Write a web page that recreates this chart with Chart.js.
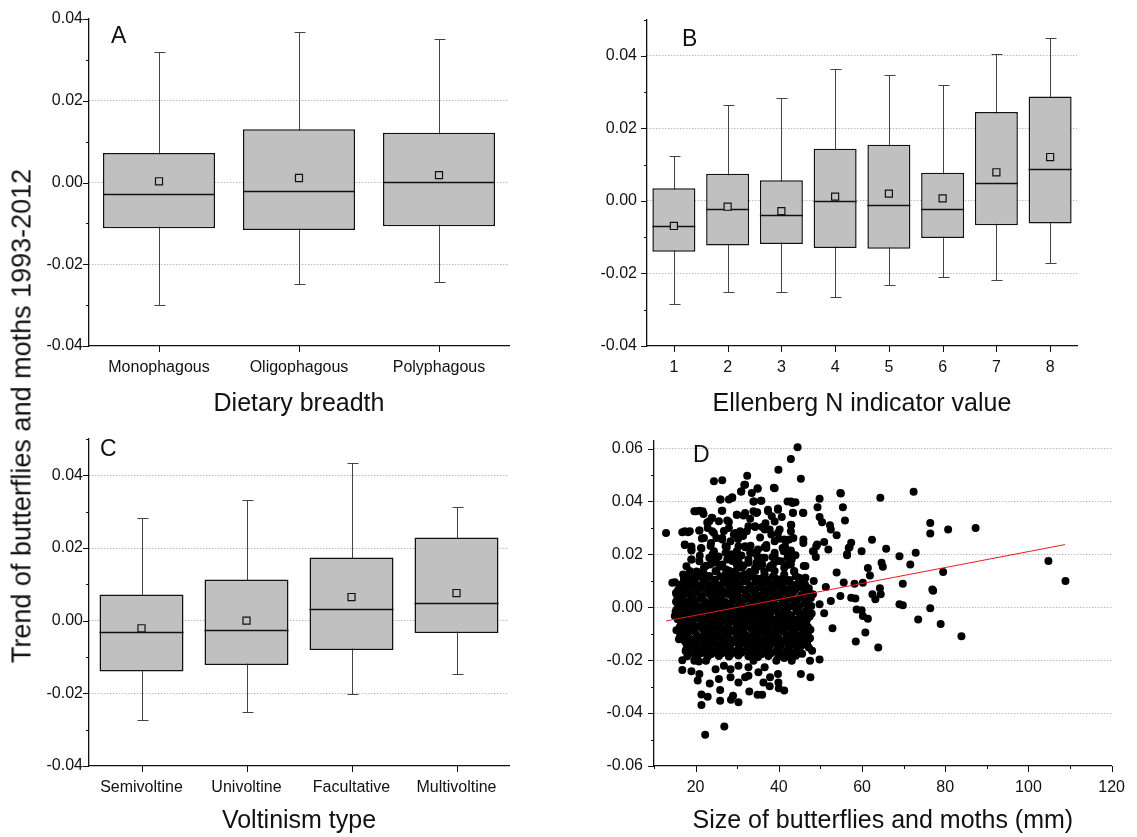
<!DOCTYPE html>
<html lang="en">
<head>
<meta charset="UTF-8">
<title>Trend of butterflies and moths 1993-2012</title>
<script src="https://cdn.jsdelivr.net/npm/chart.js"></script>
<style>
  body { margin: 0; background: #fff; }
  #fig { position: relative; width: 1137px; height: 837px; overflow: hidden; font-family: "Liberation Sans", Arial, sans-serif; color: #111; }
  canvas { position: absolute; }
  .letter { position: absolute; font-size: 23px; line-height: 1; }
  #ytitle { position: absolute; left: 22px; top: 416px; font-size: 27px; white-space: nowrap; transform: translate(-50%, -50%) rotate(-90deg); }
</style>
</head>
<body>
<div id="fig">
  <canvas id="chartA" width="500" height="420" style="left:30px;top:0px"></canvas>
  <canvas id="chartB" width="510" height="420" style="left:590px;top:0px"></canvas>
  <canvas id="chartC" width="500" height="417" style="left:30px;top:420px"></canvas>
  <canvas id="chartD" width="547" height="417" style="left:590px;top:420px"></canvas>
  <div class="letter" style="left:111px;top:24px">A</div>
  <div class="letter" style="left:682px;top:27px">B</div>
  <div class="letter" style="left:100px;top:437px">C</div>
  <div class="letter" style="left:693px;top:443px">D</div>
  <div id="ytitle">Trend of butterflies and moths 1993-2012</div>
</div>

<script>
// A - dietary breadth
const dietLabels = ['Monophagous', 'Oligophagous', 'Polyphagous'];
const dietLow = [-0.0300, -0.0248, -0.0244];
const dietQ1 = [-0.0112, -0.0116, -0.0107];
const dietMedian = [-0.0028, -0.0021, 0.0002];
const dietQ3 = [0.0072, 0.0130, 0.0122];
const dietHigh = [0.0319, 0.0367, 0.0350];
const dietMean = [0.0003, 0.0011, 0.0018];

// B - Ellenberg N
const ellLabels = ['1', '2', '3', '4', '5', '6', '7', '8'];
const ellLow = [-0.0284, -0.0252, -0.0252, -0.0265, -0.0233, -0.0211, -0.0217, -0.0172];
const ellQ1 = [-0.0140, -0.0123, -0.0119, -0.0130, -0.0132, -0.0102, -0.0067, -0.0062];
const ellMedian = [-0.0070, -0.0023, -0.0040, -0.0001, -0.0012, -0.0023, 0.0049, 0.0087];
const ellQ3 = [0.0035, 0.0075, 0.0057, 0.0144, 0.0155, 0.0078, 0.0245, 0.0288];
const ellHigh = [0.0123, 0.0264, 0.0284, 0.0363, 0.0346, 0.0319, 0.0406, 0.0450];
const ellMean = [-0.0069, -0.0016, -0.0028, 0.0012, 0.0020, 0.0007, 0.0079, 0.0121];

// C - voltinism
const voltLabels = ['Semivoltine', 'Univoltine', 'Facultative', 'Multivoltine'];
const voltLow = [-0.0273, -0.0252, -0.0201, -0.0146];
const voltQ1 = [-0.0140, -0.0122, -0.0081, -0.0034];
const voltMedian = [-0.0031, -0.0026, 0.0032, 0.0050];
const voltQ3 = [0.0072, 0.0113, 0.0174, 0.0229];
const voltHigh = [0.0282, 0.0331, 0.0434, 0.0313];
const voltMean = [-0.0021, 0.0000, 0.0065, 0.0076];

// D - size vs trend, [size mm, trend]
const fitX = [12.9, 108.8];
const fitY = [-0.0052, 0.0237];
const mothPoints = [
  [44.5,0.0605],[42.9,0.0560],[39.9,0.0520],[45.3,0.0486],[32.4,0.0497],[31.9,0.0463],[30.9,0.0438],[24.4,0.0476],
  [26.4,0.0480],[38.8,0.0452],[34.9,0.0448],[33.5,0.0432],[34.0,0.0400],[35.8,0.0403],[25.9,0.0407],[28.8,0.0416],
  [28.0,0.0407],[42.9,0.0400],[44.0,0.0397],[49.8,0.0410],[54.9,0.0430],[64.4,0.0414],[72.4,0.0437],[45.8,0.0357],
  [49.3,0.0378],[55.4,0.0378],[55.9,0.0328],[49.8,0.0341],[50.4,0.0321],[52.3,0.0310],[53.9,0.0272],[76.4,0.0319],
  [76.4,0.0279],[80.7,0.0294],[87.3,0.0300],[12.9,0.0281],[16.8,0.0284],[18.2,0.0284],[17.4,0.0235],[19.0,0.0215],
  [19.0,0.0181],[19.7,0.0363],[20.9,0.0365],[21.9,0.0353],[20.9,0.0290],[22.0,0.0262],[21.4,0.0222],[23.3,0.0325],
  [23.9,0.0338],[24.4,0.0281],[25.6,0.0325],[26.3,0.0365],[27.6,0.0328],[29.9,0.0350],[31.5,0.0347],[33.1,0.0335],
  [33.9,0.0363],[34.8,0.0359],[37.4,0.0363],[38.3,0.0344],[39.8,0.0373],[40.7,0.0341],[43.0,0.0311],[43.4,0.0357],
  [32.7,0.0306],[34.3,0.0303],[36.0,0.0303],[37.8,0.0294],[40.2,0.0294],[26.8,0.0288],[29.6,0.0281],[31.4,0.0269],
  [26.4,0.0256],[28.4,0.0250],[30.3,0.0231],[31.9,0.0227],[36.6,0.0227],[39.0,0.0250],[42.0,0.0254],[39.0,0.0206],
  [41.2,0.0212],[42.9,0.0215],[43.1,0.0181],[48.4,0.0210],[49.2,0.0237],[50.9,0.0247],[51.9,0.0218],[48.9,0.0190],
  [46.0,0.0156],[56.4,0.0200],[57.4,0.0244],[57.0,0.0227],[59.9,0.0212],[62.4,0.0255],[65.8,0.0221],[69.0,0.0193],
  [71.6,0.0162],[72.9,0.0206],[64.7,0.0168],[65.0,0.0153],[61.4,0.0148],[61.9,0.0120],[53.9,0.0131],[104.8,0.0175],
  [108.9,0.0099],[79.5,0.0133],[69.8,0.0089],[77.1,0.0062],[76.9,0.0067],[76.4,-0.0004],[69.0,0.0011],[69.8,0.0008],
  [73.5,-0.0046],[78.9,-0.0063],[83.9,-0.0110],[63.9,-0.0152],[60.8,-0.0095],[61.4,-0.0043],[58.5,-0.0129],[58.7,-0.0008],
  [59.9,-0.0011],[60.2,-0.0033],[58.4,0.0033],[57.4,0.0036],[54.8,0.0043],[52.9,-0.0079],[50.9,-0.0023],[52.5,0.0024],
  [51.3,0.0077],[49.8,0.0011],[48.4,0.0099],[49.8,-0.0197],[47.5,-0.0202],[47.6,-0.0265],[45.3,-0.0252],[48.0,-0.0164],
  [47.2,-0.0152],[47.5,-0.0117],[47.0,-0.0092],[46.6,-0.0064],[46.4,-0.0039],[46.4,0.0112],[47.2,0.0072],[48.2,0.0049],
  [64.3,0.0072],[64.5,0.0049],[63.2,0.0030],[62.5,0.0049],[60.2,0.0093],[58.2,0.0089],[55.6,0.0094],
  [22.3,-0.0482],[26.9,-0.0451],[21.4,-0.0369],[21.4,-0.0330],[22.9,-0.0338],[25.9,-0.0353],[25.9,-0.0313],[28.5,-0.0350],
  [29.0,-0.0334],[30.3,-0.0359],[32.9,-0.0318],[34.9,-0.0331],[36.0,-0.0331],[40.0,-0.0306],[41.3,-0.0315],[37.8,-0.0299],
  [36.3,-0.0284],[37.9,-0.0265],[39.9,-0.0284],[39.8,-0.0252],[35.1,-0.0246],[32.7,-0.0259],[31.9,-0.0265],[30.3,-0.0284],
  [28.4,-0.0265],[25.6,-0.0271],[23.4,-0.0288],[20.5,-0.0277],[20.9,-0.0252],[19.0,-0.0242],[16.8,-0.0237],[16.8,-0.0200],
  [19.7,-0.0202],[20.8,-0.0205],[22.5,-0.0202],[22.5,-0.0171],[24.8,-0.0234],[26.8,-0.0221],[28.4,-0.0234],[30.3,-0.0221],
  [32.7,-0.0227],[33.9,-0.0202],[36.6,-0.0227],[39.4,-0.0202],[41.3,-0.0192],[43.1,-0.0202],[42.5,-0.0177],[44.1,-0.0183],
  [15.4,-0.0087],[15.0,-0.0033],[15.4,0.0049],[14.4,0.0093],[15.3,0.0021],[16.0,-0.0121],[17.8,-0.0158],
  [17.4,0.0112],[19.0,0.0112],[18.6,0.0137],[19.7,0.0087],[20.9,0.0131],[22.0,0.0149],[23.3,0.0118],[23.5,0.0162],
  [24.8,0.0175],[26.4,0.0162],[27.3,0.0143],[28.8,0.0175],[29.6,0.0124],[31.1,0.0149],[32.7,0.0168],[34.3,0.0149],
  [36.0,0.0162],[37.8,0.0149],[39.8,0.0175],[41.3,0.0149],[44.9,0.0112],[44.3,0.0074],[24.1,0.0200],[27.2,0.0206],
  [29.6,0.0200],[33.5,0.0206],[36.0,0.0187],[30.3,0.0175],[39.0,0.0112],
  [20.2,0.0135],[25.0,0.0135],[28.0,0.0138],[33.0,0.0133],[36.5,0.0136],[43.7,0.0134],[17.8,0.0155],[22.5,0.0157],
  [26.0,0.0154],[31.5,0.0158],[35.2,0.0155],[38.0,0.0156],[42.0,0.0160],[21.0,0.0195],[25.5,0.0192],[31.0,0.0196],
  [34.8,0.0194],[38.5,0.0190],[44.0,0.0197],[19.0,0.0230],[23.6,0.0232],[27.5,0.0228],[33.2,0.0233],[37.0,0.0235],
  [41.5,0.0230],[21.5,0.0260],[25.0,0.0262],[30.2,0.0258],[35.5,0.0264],[40.0,0.0259],[43.5,0.0262],[22.8,0.0320],
  [28.0,0.0322],[36.8,0.0318],[39.0,0.0324],
  // upper band, second reading
  [31.7,0.0463],[31.0,0.0438],[26.0,0.0407],[28.8,0.0413],[34.9,0.0450],[33.9,0.0400],[35.7,0.0403],[39.0,0.0450],
  [20.1,0.0363],[21.7,0.0363],[24.0,0.0337],[26.4,0.0365],[29.9,0.0350],[31.9,0.0356],[34.6,0.0356],[37.4,0.0369],
  [39.8,0.0369],[42.1,0.0400],[43.3,0.0394],[17.4,0.0287],[18.6,0.0287],[20.9,0.0290],[22.9,0.0300],[24.0,0.0287],
  [26.4,0.0262],[28.0,0.0300],[29.2,0.0275],[30.7,0.0287],[32.3,0.0287],[34.3,0.0306],[36.6,0.0294],[38.2,0.0275],
  [39.8,0.0281],[41.3,0.0256],[42.9,0.0287],[17.4,0.0237],[19.0,0.0218],[21.3,0.0224],[23.7,0.0243],[24.4,0.0212],
  [27.2,0.0231],[28.4,0.0200],[29.9,0.0212],[31.9,0.0231],[33.1,0.0206],[35.0,0.0218],[37.0,0.0224],[39.0,0.0193],
  [40.9,0.0224],[42.1,0.0187],[19.0,0.0181],[20.9,0.0174],[23.3,0.0187],[24.9,0.0168],[27.6,0.0181],[29.9,0.0162],
  [32.7,0.0181],[34.6,0.0168],[36.6,0.0187],[38.6,0.0162],[40.5,0.0174],[42.9,0.0162],[17.0,0.0124],[19.7,0.0130],
  [22.1,0.0124],[24.8,0.0137],[27.2,0.0124],[29.6,0.0137],[31.9,0.0124],[34.3,0.0137],[36.6,0.0124],[39.0,0.0137],
  [41.3,0.0124],[43.7,0.0137],[43.4,0.0356],[45.9,0.0356],[42.9,0.0312],[45.9,0.0256],[45.9,0.0243],[42.5,0.0256],
  [42.9,0.0206],[46.4,0.0156],[52.5,0.0294],[49.0,0.0231],[48.2,0.0212],[56.8,0.0224],[56.4,0.0197],[54.8,0.0432],
  // dense core
  [17.2,0.0105],[19.5,0.0103],[21.8,0.0107],[24.6,0.0104],[27.1,0.0106],[29.9,0.0102],[32.4,0.0105],[35.0,0.0108],[37.3,0.0104],[40.1,0.0105],[42.6,0.0103],[45.2,0.0106],
  [16.1,0.0085],[18.4,0.0087],[20.7,0.0083],[23.0,0.0086],[25.3,0.0084],[27.8,0.0088],[30.5,0.0085],[33.1,0.0082],[35.9,0.0086],[38.4,0.0085],[40.8,0.0087],[43.5,0.0084],[46.3,0.0086],
  [15.8,0.0065],[17.6,0.0063],[19.9,0.0067],[22.4,0.0064],[24.1,0.0066],[26.5,0.0062],[28.9,0.0065],[31.2,0.0068],[33.8,0.0064],[36.4,0.0065],[38.9,0.0063],[41.7,0.0066],[44.0,0.0065],[47.1,0.0064],
  [16.9,0.0045],[18.8,0.0047],[21.3,0.0043],[23.6,0.0046],[25.8,0.0044],[28.2,0.0048],[30.1,0.0045],[32.5,0.0042],[34.9,0.0046],[37.2,0.0045],[39.6,0.0047],[42.3,0.0044],[45.5,0.0046],
  [15.5,0.0025],[17.9,0.0023],[20.2,0.0027],[22.1,0.0024],[24.8,0.0026],[27.0,0.0022],[29.4,0.0025],[31.8,0.0028],[34.2,0.0024],[36.8,0.0025],[38.7,0.0023],[41.0,0.0026],[43.8,0.0025],[46.6,0.0024],
  [16.4,0.0005],[18.6,0.0007],[20.9,0.0003],[23.3,0.0006],[25.5,0.0004],[27.9,0.0008],[30.6,0.0005],[32.9,0.0002],[35.4,0.0006],[37.7,0.0005],[40.3,0.0007],[42.9,0.0004],[45.0,0.0006],[47.8,0.0005],
  [15.2,-0.0015],[17.3,-0.0013],[19.6,-0.0017],[21.9,-0.0014],[24.3,-0.0016],[26.6,-0.0012],[29.0,-0.0015],[31.5,-0.0018],[33.6,-0.0014],[36.1,-0.0015],[38.5,-0.0013],[41.4,-0.0016],[44.2,-0.0015],[46.5,-0.0014],
  [16.6,-0.0035],[18.9,-0.0037],[21.2,-0.0033],[23.7,-0.0036],[25.9,-0.0034],[28.4,-0.0038],[30.8,-0.0035],[33.2,-0.0032],[35.6,-0.0036],[37.9,-0.0035],[40.6,-0.0037],[43.0,-0.0034],[45.7,-0.0036],[47.4,-0.0035],
  [17.0,-0.0055],[19.3,-0.0053],[21.6,-0.0057],[24.0,-0.0054],[26.2,-0.0056],[28.7,-0.0052],[31.1,-0.0055],[33.5,-0.0058],[36.0,-0.0054],[38.2,-0.0055],[40.9,-0.0053],[43.4,-0.0056],[46.0,-0.0055],
  [16.2,-0.0075],[18.1,-0.0077],[20.4,-0.0073],[22.8,-0.0076],[25.1,-0.0074],[27.4,-0.0078],[29.8,-0.0075],[32.2,-0.0072],[34.6,-0.0076],[37.0,-0.0075],[39.3,-0.0077],[41.8,-0.0074],[44.5,-0.0076],[47.0,-0.0075],
  [17.5,-0.0095],[19.8,-0.0093],[22.2,-0.0097],[24.5,-0.0094],[26.9,-0.0096],[29.2,-0.0092],[31.6,-0.0095],[34.0,-0.0098],[36.5,-0.0094],[38.8,-0.0095],[41.2,-0.0093],[43.7,-0.0096],[46.2,-0.0095],
  [16.8,-0.0115],[18.5,-0.0117],[21.0,-0.0113],[23.4,-0.0116],[25.7,-0.0114],[28.1,-0.0118],[30.4,-0.0115],[32.8,-0.0112],[35.2,-0.0116],[37.6,-0.0115],[40.0,-0.0117],[42.5,-0.0114],[45.1,-0.0116],
  [17.7,-0.0135],[20.0,-0.0133],[22.6,-0.0137],[24.9,-0.0134],[27.3,-0.0136],[29.7,-0.0132],[32.0,-0.0135],[34.4,-0.0138],[36.7,-0.0134],[39.1,-0.0135],[41.6,-0.0133],[44.0,-0.0136],[46.8,-0.0135],
  [18.3,-0.0155],[20.6,-0.0157],[23.1,-0.0153],[25.4,-0.0156],[27.7,-0.0154],[30.2,-0.0158],[32.6,-0.0155],[35.1,-0.0152],[37.4,-0.0156],[39.8,-0.0155],[42.2,-0.0157],[44.8,-0.0154],
  [19.1,-0.0175],[21.5,-0.0173],[23.8,-0.0177],[26.3,-0.0174],[28.6,-0.0176],[31.0,-0.0172],[33.4,-0.0175],[35.8,-0.0178],[38.1,-0.0174],[40.5,-0.0175],[43.1,-0.0173],[45.6,-0.0176],
  [18.3,0.0115],[20.8,0.0117],[23.1,0.0113],[26.0,0.0116],[28.4,0.0114],[31.0,0.0118],[33.7,0.0115],[36.2,0.0112],[38.6,0.0116],[41.3,0.0115],[44.1,0.0117],
  [15.0,0.0095],[17.3,0.0093],[19.8,0.0097],[22.0,0.0094],[24.6,0.0096],[26.7,0.0092],[29.2,0.0095],[31.8,0.0098],[34.4,0.0094],[37.0,0.0095],[39.6,0.0093],[42.0,0.0096],[44.8,0.0095],
  [16.7,0.0075],[18.9,0.0077],[21.1,0.0073],[23.5,0.0076],[25.6,0.0074],[28.1,0.0078],[30.2,0.0075],[32.8,0.0072],[35.1,0.0076],[37.8,0.0075],[40.3,0.0077],[42.8,0.0074],[45.6,0.0076],
  [15.3,0.0055],[17.8,0.0053],[20.3,0.0057],[22.9,0.0054],[25.0,0.0056],[27.4,0.0052],[29.6,0.0055],[32.0,0.0058],[34.3,0.0054],[36.6,0.0055],[38.3,0.0053],[40.9,0.0056],[43.3,0.0055],[46.4,0.0054],
  [16.4,0.0035],[19.1,0.0037],[21.6,0.0033],[23.9,0.0036],[26.2,0.0034],[28.8,0.0038],[31.0,0.0035],[33.4,0.0032],[35.8,0.0036],[38.0,0.0035],[40.2,0.0037],[42.8,0.0034],[44.9,0.0036],[47.7,0.0035],
  [15.9,0.0015],[17.4,0.0013],[19.7,0.0017],[22.6,0.0014],[24.2,0.0016],[26.4,0.0012],[28.5,0.0015],[31.1,0.0018],[33.5,0.0014],[36.0,0.0015],[38.9,0.0013],[41.7,0.0016],[44.3,0.0015],[46.2,0.0014],
  [15.6,-0.0005],[17.9,-0.0007],[20.1,-0.0003],[22.5,-0.0006],[24.7,-0.0004],[27.1,-0.0008],[29.7,-0.0005],[32.2,-0.0002],[34.8,-0.0006],[37.2,-0.0005],[39.5,-0.0007],[42.1,-0.0004],[44.6,-0.0006],[47.0,-0.0005],
  [16.0,-0.0025],[18.2,-0.0023],[20.5,-0.0027],[23.0,-0.0024],[25.2,-0.0026],[27.6,-0.0022],[30.1,-0.0025],[32.4,-0.0028],[34.9,-0.0024],[37.1,-0.0025],[39.8,-0.0023],[42.4,-0.0026],[45.1,-0.0025],[47.9,-0.0024],
  [15.7,-0.0045],[17.9,-0.0047],[20.0,-0.0043],[22.6,-0.0046],[24.9,-0.0044],[27.2,-0.0048],[29.6,-0.0045],[32.0,-0.0042],[34.3,-0.0046],[36.8,-0.0045],[39.2,-0.0047],[41.9,-0.0044],[44.4,-0.0046],[46.8,-0.0045],
  [16.5,-0.0065],[18.8,-0.0063],[21.3,-0.0067],[23.5,-0.0064],[25.7,-0.0066],[28.0,-0.0062],[30.5,-0.0065],[32.9,-0.0068],[35.4,-0.0064],[37.6,-0.0065],[40.1,-0.0063],[42.7,-0.0066],[45.3,-0.0065],
  [17.1,-0.0085],[19.3,-0.0087],[21.7,-0.0083],[23.9,-0.0086],[26.3,-0.0084],[28.6,-0.0088],[31.0,-0.0085],[33.4,-0.0082],[35.8,-0.0086],[38.1,-0.0085],[40.6,-0.0087],[43.1,-0.0084],[45.8,-0.0086],[47.6,-0.0085],
  [16.3,-0.0105],[18.0,-0.0103],[20.3,-0.0107],[22.8,-0.0104],[25.1,-0.0106],[27.5,-0.0102],[29.9,-0.0105],[32.3,-0.0108],[34.7,-0.0104],[37.0,-0.0105],[39.4,-0.0103],[41.9,-0.0106],[44.4,-0.0105],[46.9,-0.0104],
  [17.2,-0.0125],[19.4,-0.0127],[21.9,-0.0123],[24.2,-0.0126],[26.5,-0.0124],[28.9,-0.0128],[31.3,-0.0125],[33.7,-0.0122],[36.1,-0.0126],[38.4,-0.0125],[40.8,-0.0127],[43.3,-0.0124],[45.7,-0.0126],
  [18.9,-0.0145],[21.3,-0.0143],[23.6,-0.0147],[26.0,-0.0144],[28.3,-0.0146],[30.7,-0.0142],[33.1,-0.0145],[35.6,-0.0148],[37.9,-0.0144],[40.4,-0.0145],[43.0,-0.0143],[45.4,-0.0146],
  [17.6,-0.0165],[20.1,-0.0167],[22.4,-0.0163],[24.8,-0.0166],[27.2,-0.0164],[29.5,-0.0168],[31.9,-0.0165],[34.3,-0.0162],[36.8,-0.0166],[39.3,-0.0165],[41.7,-0.0167],[44.2,-0.0164],
  [18.0,-0.0185],[20.5,-0.0183],[22.9,-0.0187],[25.6,-0.0184],[28.0,-0.0186],[30.3,-0.0182],[32.7,-0.0185],[35.0,-0.0188],[37.5,-0.0184],[39.9,-0.0185],[42.3,-0.0183]
];

Chart.defaults.font.family = '"Liberation Sans", Arial, sans-serif';
Chart.defaults.font.size = 16;
Chart.defaults.color = '#111';

const boxFill = '#c0c0c0';
const ink = '#111';

function isMajor(v, step) {
  const r = v / step;
  return Math.abs(r - Math.round(r)) < 1e-6;
}

function yLabel(v) {
  if (!isMajor(v, 0.02)) return '';
  return (Math.abs(v) < 1e-9 ? 0 : v).toFixed(2);
}

// dotted grid only on labelled values inside the axis range
function gridColor(min, max) {
  return ctx => {
    const v = ctx.tick ? ctx.tick.value : null;
    if (v === null || Math.abs(v - min) < 1e-9 || Math.abs(v - max) < 1e-9) return 'rgba(0,0,0,0)';
    return isMajor(v, 0.02) ? '#9a9a9a' : 'rgba(0,0,0,0)';
  };
}

// outward tick marks, long on labelled values, short in between
function tickMarks(xStep) {
  return {
    id: 'tickMarks',
    afterDraw(chart) {
      const ctx = chart.ctx, xs = chart.scales.x, ys = chart.scales.y;
      ctx.save();
      ctx.strokeStyle = ink;
      ctx.lineWidth = 1;
      ctx.beginPath();
      ys.ticks.forEach(t => {
        const py = Math.round(ys.getPixelForValue(t.value)) + 0.5;
        const len = isMajor(t.value, 0.02) ? 6 : 3;
        ctx.moveTo(ys.right - len, py);
        ctx.lineTo(ys.right, py);
      });
      xs.ticks.forEach((t, i) => {
        const px = Math.round(xs.getPixelForTick(i)) + 0.5;
        const len = (!xStep || isMajor(t.value, xStep)) ? 6 : 3;
        ctx.moveTo(px, xs.top);
        ctx.lineTo(px, xs.top + len);
      });
      ctx.stroke();
      ctx.restore();
    }
  };
}

// whiskers behind the boxes, median line over them
function boxParts(low, high, median) {
  return {
    id: 'boxParts',
    beforeDatasetsDraw(chart) {
      const ctx = chart.ctx, xs = chart.scales.x, ys = chart.scales.y;
      ctx.save();
      ctx.strokeStyle = '#444';
      ctx.lineWidth = 1;
      ctx.beginPath();
      low.forEach((v, i) => {
        const px = Math.round(xs.getPixelForTick(i)) + 0.5;
        const y1 = Math.round(ys.getPixelForValue(v)) + 0.5;
        const y2 = Math.round(ys.getPixelForValue(high[i])) + 0.5;
        ctx.moveTo(px, y1); ctx.lineTo(px, y2);
        ctx.moveTo(px - 5, y1); ctx.lineTo(px + 6, y1);
        ctx.moveTo(px - 5, y2); ctx.lineTo(px + 6, y2);
      });
      ctx.stroke();
      ctx.restore();
    },
    afterDatasetDraw(chart, args) {
      if (args.meta.type !== 'bar') return;
      const ctx = chart.ctx, ys = chart.scales.y;
      ctx.save();
      ctx.strokeStyle = ink;
      ctx.lineWidth = 1.5;
      ctx.beginPath();
      args.meta.data.forEach((bar, i) => {
        const py = Math.round(ys.getPixelForValue(median[i])) + 0.5;
        ctx.moveTo(bar.x - bar.width / 2, py);
        ctx.lineTo(bar.x + bar.width / 2, py);
      });
      ctx.stroke();
      ctx.restore();
    }
  };
}

function yScale(min, max, width, pad) {
  return {
    min: min, max: max,
    afterFit: s => { s.width = width; },
    ticks: { stepSize: 0.01, autoSkip: false, padding: pad, includeBounds: false, callback: yLabel },
    grid: { drawTicks: false, color: gridColor(min, max), lineWidth: 1 },
    border: { color: ink, width: 1.3, dash: [1, 2] }
  };
}

function xTitle(text) {
  return { display: true, text: text, color: ink, font: { size: 25 }, padding: { top: 0, bottom: 1 } };
}

function boxChart(id, p) {
  return new Chart(document.getElementById(id), {
    data: {
      labels: p.labels,
      datasets: [
        {
          type: 'line', order: 0, data: p.mean, showLine: false,
          pointStyle: 'rect', pointRadius: 5,
          pointBackgroundColor: boxFill, pointBorderColor: ink, pointBorderWidth: 1.2
        },
        {
          type: 'bar', order: 1, data: p.q1.map((v, i) => [v, p.q3[i]]),
          backgroundColor: boxFill, borderColor: ink, borderWidth: 1.5, borderSkipped: false,
          barPercentage: 0.8, categoryPercentage: 1
        }
      ]
    },
    options: {
      responsive: false,
      animation: false,
      events: [],
      layout: { padding: { top: 19, right: p.right, left: 0, bottom: 0 } },
      plugins: { legend: { display: false }, tooltip: { enabled: false } },
      scales: {
        x: {
          type: 'category', offset: true,
          afterFit: s => { s.height = p.xHeight; },
          ticks: { padding: 12, autoSkip: false, maxRotation: 0 },
          grid: { display: false, drawTicks: false },
          border: { color: ink, width: 1.3 },
          title: xTitle(p.title)
        },
        y: yScale(-0.04, p.yMax, p.yWidth, p.yPad)
      }
    },
    plugins: [boxParts(p.low, p.high, p.median), tickMarks(0)]
  });
}

boxChart('chartA', {
  labels: dietLabels, low: dietLow, q1: dietQ1, median: dietMedian, q3: dietQ3, high: dietHigh, mean: dietMean,
  yMax: 0.04, yWidth: 59, yPad: 6, right: 21, xHeight: 74, title: 'Dietary breadth'
});

boxChart('chartB', {
  labels: ellLabels, low: ellLow, q1: ellQ1, median: ellMedian, q3: ellQ3, high: ellHigh, mean: ellMean,
  yMax: 0.05, yWidth: 57, yPad: 10, right: 23, xHeight: 74, title: 'Ellenberg N indicator value'
});

boxChart('chartC', {
  labels: voltLabels, low: voltLow, q1: voltQ1, median: voltMedian, q3: voltQ3, high: voltHigh, mean: voltMean,
  yMax: 0.05, yWidth: 59, yPad: 6, right: 21, xHeight: 71, title: 'Voltinism type'
});

new Chart(document.getElementById('chartD'), {
  type: 'scatter',
  data: {
    datasets: [
      {
        type: 'line', order: 0, data: fitX.map((x, i) => ({ x: x, y: fitY[i] })),
        borderColor: '#f01818', borderWidth: 1, pointRadius: 0, showLine: true, fill: false
      },
      {
        order: 1, data: mothPoints.map(p => ({ x: p[0], y: p[1] })),
        pointRadius: 4, backgroundColor: '#000', borderColor: '#000', borderWidth: 0
      }
    ]
  },
  options: {
    responsive: false,
    animation: false,
    events: [],
    layout: { padding: { top: 19, right: 17, left: 0, bottom: 0 } },
    plugins: { legend: { display: false }, tooltip: { enabled: false } },
    scales: {
      x: {
        type: 'linear', min: 10, max: 120,
        afterFit: s => { s.height = 71; },
        ticks: { stepSize: 10, autoSkip: false, maxRotation: 0, padding: 12, callback: v => (v % 20 === 0 ? v : '') },
        grid: { display: false, drawTicks: false },
        border: { color: ink, width: 1.3 },
        title: xTitle('Size of butterflies and moths (mm)')
      },
      y: yScale(-0.06, 0.063, 64, 11)
    }
  },
  plugins: [tickMarks(20)]
});
</script>
</body>
</html>
